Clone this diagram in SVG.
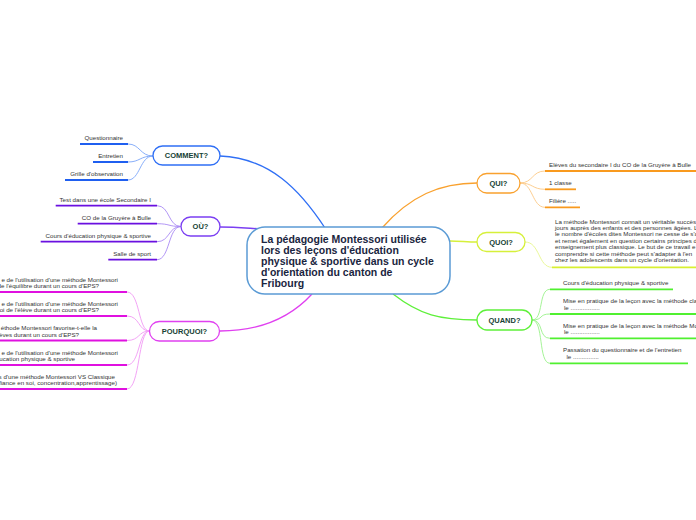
<svg xmlns="http://www.w3.org/2000/svg" width="696" height="520" viewBox="0 0 696 520">
<style>
.node{fill:#ffffff;stroke-width:1.3}
.lbl{font-family:"Liberation Sans",Arial,sans-serif;font-weight:bold;font-size:7.5px;fill:#173f35;text-anchor:middle}
.leaf{font-family:"Liberation Sans",Arial,sans-serif;font-size:6.2px;fill:#333333}
.end{text-anchor:end}
.main{fill:none;stroke-width:1.3}
.br{fill:none;stroke-width:0.9}
.ul{fill:none;stroke-width:1.8}
.center{font-family:"Liberation Sans",Arial,sans-serif;font-weight:bold;font-size:10.5px;fill:#1a2540}
</style>
<rect width="696" height="520" fill="#ffffff"/>
<g id="connectors">
  <path class="main" stroke="#2f6ff5" d="M220,156 C270,158 300,190 325,228"/>
  <path class="main" stroke="#7b3ff2" d="M220,227 C235,227 245,228 262,229"/>
  <path class="main" stroke="#e040f0" d="M312,294 C290,318 260,331 220,331"/>
  <path class="main" stroke="#f9a12e" d="M382,228 C410,196 440,183 477,183"/>
  <path class="main" stroke="#d6f03a" d="M450,241 C460,241 467,242 477,242"/>
  <path class="main" stroke="#5ef03a" d="M393,294 C420,315 440,320 477,320"/>
  <!-- COMMENT branches -->
  <g stroke="#7aa5f8" class="br">
    <path class="br" d="M128,144 C140,144 140,156 153,156"/>
    <path class="br" d="M128,162 C140,162 140,156 153,156"/>
    <path class="br" d="M128,180 C140,180 140,156 153,156"/>
  </g>
  <g stroke="#a98af4">
    <path class="br" d="M157,205.7 C170,205.7 168,226.5 181,226.5"/>
    <path class="br" d="M157,223.7 C170,223.7 168,226.5 181,226.5"/>
    <path class="br" d="M157,241.7 C170,241.7 168,226.5 181,226.5"/>
    <path class="br" d="M157,259.7 C170,259.7 168,226.5 181,226.5"/>
  </g>
  <g stroke="#f09af4">
    <path class="br" d="M127,292 C140,292 138,331 149.5,331"/>
    <path class="br" d="M127,316 C140,316 138,331 149.5,331"/>
    <path class="br" d="M127,340.5 C140,340.5 138,331 149.5,331"/>
    <path class="br" d="M127,365 C140,365 138,331 149.5,331"/>
    <path class="br" d="M127,389 C140,389 138,331 149.5,331"/>
  </g>
  <g stroke="#fcc885">
    <path class="br" d="M520,183 C533,183 532,171 545,171"/>
    <path class="br" d="M520,183 C533,183 532,189.3 545,189.3"/>
    <path class="br" d="M520,183 C533,183 532,207.3 545,207.3"/>
  </g>
  <g stroke="#e6f68c">
    <path class="br" d="M525,242 C540,242 538,267.3 552,267.3"/>
  </g>
  <g stroke="#9af28a">
    <path class="br" d="M532,320 C544,320 538,289.3 550,289.3"/>
    <path class="br" d="M532,320 C544,320 538,314 550,314"/>
    <path class="br" d="M532,320 C544,320 538,338.3 550,338.3"/>
    <path class="br" d="M532,320 C544,320 538,363.3 550,363.3"/>
  </g>
</g>
<g id="central">
  <rect x="247" y="227" width="203" height="67" rx="18" fill="#ffffff" stroke="#5b9bd5" stroke-width="1.5"/>
  <text class="center" x="261" y="242.6">La pédagogie Montessori utilisée</text>
  <text class="center" x="261" y="253.8">lors des leçons d'éducation</text>
  <text class="center" x="261" y="265">physique &amp; sportive dans un cycle</text>
  <text class="center" x="261" y="276.2">d'orientation du canton de</text>
  <text class="center" x="261" y="287.4">Fribourg</text>
</g>
<g id="comment">
  <rect class="node" x="153" y="146" width="67" height="19" rx="9.5" stroke="#2f6ff5"/>
  <text class="lbl" x="186.5" y="158.2">COMMENT?</text>
</g>
<g id="comment-leaves">
  <g id="questionnaire"><text class="leaf end" x="123" y="140">Questionnaire</text><path class="ul" stroke="#1f5ff0" d="M80,144H128"/></g>
  <g id="entretien"><text class="leaf end" x="123" y="158">Entretien</text><path class="ul" stroke="#1f5ff0" d="M93,162H128"/></g>
  <g id="grille"><text class="leaf end" x="123" y="176">Grille d'observation</text><path class="ul" stroke="#1f5ff0" d="M65,180H128"/></g>
</g>
<g id="ou">
  <rect class="node" x="181" y="217" width="39" height="19" rx="9.5" stroke="#7b3ff2"/>
  <text class="lbl" x="200.5" y="229.2">OÙ?</text>
</g>
<g id="ou-leaves">
  <g id="test"><text class="leaf end" x="151" y="201.7">Test dans une école Secondaire I</text><path class="ul" stroke="#6a10e0" d="M55.7,205.7H157"/></g>
  <g id="co"><text class="leaf end" x="151" y="219.7">CO de la Gruyère à Bulle</text><path class="ul" stroke="#6a10e0" d="M77.7,223.7H157"/></g>
  <g id="cours"><text class="leaf end" x="151" y="237.7">Cours d'éducation physique &amp; sportive</text><path class="ul" stroke="#6a10e0" d="M40.7,241.7H157"/></g>
  <g id="salle"><text class="leaf end" x="151" y="255.5">Salle de sport</text><path class="ul" stroke="#6a10e0" d="M108.3,259.7H157"/></g>
</g>
<g id="pourquoi">
  <rect class="node" x="149.5" y="321.5" width="70" height="19.5" rx="9.75" stroke="#e040f0"/>
  <text class="lbl" x="184.5" y="334">POURQUOI?</text>
</g>
<g id="pourquoi-leaves">
  <g id="p1"><text class="leaf end" x="118" y="281.5">e de l'utilisation d'une méthode Montessori</text><text class="leaf end" x="99" y="288.3">de l'équilibre durant un cours d'EPS?</text><path class="ul" stroke="#e010e0" d="M-2,292H127"/></g>
  <g id="p2"><text class="leaf end" x="118" y="305.5">e de l'utilisation d'une méthode Montessori</text><text class="leaf end" x="99" y="312.3">oi de l'élève durant un cours d'EPS?</text><path class="ul" stroke="#e010e0" d="M-2,316H127"/></g>
  <g id="p3"><text class="leaf end" x="97" y="330">éthode Montessori favorise-t-elle la</text><text class="leaf end" x="79" y="336.8">èves durant un cours d'EPS?</text><path class="ul" stroke="#e010e0" d="M-2,340.5H127"/></g>
  <g id="p4"><text class="leaf end" x="118" y="354.5">e de l'utilisation d'une méthode Montessori</text><text class="leaf end" x="75" y="361.3">ucation physique &amp; sportive</text><path class="ul" stroke="#e010e0" d="M-2,365H127"/></g>
  <g id="p5"><text class="leaf end" x="115" y="378.5">s d'une méthode Montessori VS Classique</text><text class="leaf end" x="117" y="385.3">fiance en soi, concentration,apprentissage)</text><path class="ul" stroke="#e010e0" d="M-2,389H127"/></g>
</g>
<g id="qui">
  <rect class="node" x="477" y="173.5" width="43" height="19.5" rx="9.75" stroke="#f9a12e"/>
  <text class="lbl" x="498.5" y="186">QUI?</text>
</g>
<g id="qui-leaves">
  <g id="eleves"><text class="leaf" x="549" y="167">Elèves du secondaire I du CO de la Gruyère à Bulle</text><path class="ul" stroke="#f99a1e" d="M545,171H698"/></g>
  <g id="classe"><text class="leaf" x="549" y="185.2">1 classe</text><path class="ul" stroke="#f99a1e" d="M545,189.3H576"/></g>
  <g id="filiere"><text class="leaf" x="549" y="203.2">Filière .....</text><path class="ul" stroke="#f99a1e" d="M545,207.3H580"/></g>
</g>
<g id="quoi">
  <rect class="node" x="477" y="232.5" width="48" height="19" rx="9.5" stroke="#d6f03a"/>
  <text class="lbl" x="501" y="244.8">QUOI?</text>
</g>
<g id="quoi-leaf">
  <text class="leaf" x="555" y="223.5">La méthode Montessori connait un véritable succès</text>
  <text class="leaf" x="555" y="229.9">jours auprès des enfants et des personnes âgées. L</text>
  <text class="leaf" x="555" y="236.3">le nombre d'écoles dites Montessori ne cesse de s'a</text>
  <text class="leaf" x="555" y="242.7">et remet également en question certains principes d</text>
  <text class="leaf" x="555" y="249.1">enseignement plus classique. Le but de ce travail e</text>
  <text class="leaf" x="555" y="255.5">comprendre si cette méthode peut s'adapter à l'en</text>
  <text class="leaf" x="555" y="261.9">chez les adolescents dans un cycle d'orientation.</text>
  <path class="ul" stroke="#d8f030" d="M552,267.3H698"/>
</g>
<g id="quand">
  <rect class="node" x="477" y="310" width="55" height="20" rx="10" stroke="#5ef03a"/>
  <text class="lbl" x="504.5" y="322.7">QUAND?</text>
</g>
<g id="quand-leaves">
  <g id="q1"><text class="leaf" x="563" y="285.3">Cours d'éducation physique &amp; sportive</text><path class="ul" stroke="#50f030" d="M550,289.3H673"/></g>
  <g id="q2"><text class="leaf" x="563" y="302.7">Mise en pratique de la leçon avec la méthode cla</text><text class="leaf" x="564" y="310.2">le .................</text><path class="ul" stroke="#50f030" d="M550,314H698"/></g>
  <g id="q3"><text class="leaf" x="563" y="327.5">Mise en pratique de la leçon avec la méthode Mo</text><text class="leaf" x="564" y="334.2">le .................</text><path class="ul" stroke="#50f030" d="M550,338.3H698"/></g>
  <g id="q4"><text class="leaf" x="563" y="352">Passation du questionnaire et de l'entretien</text><text class="leaf" x="566.5" y="359.3">le ...............</text><path class="ul" stroke="#50f030" d="M550,363.3H688"/></g>
</g>
</svg>
